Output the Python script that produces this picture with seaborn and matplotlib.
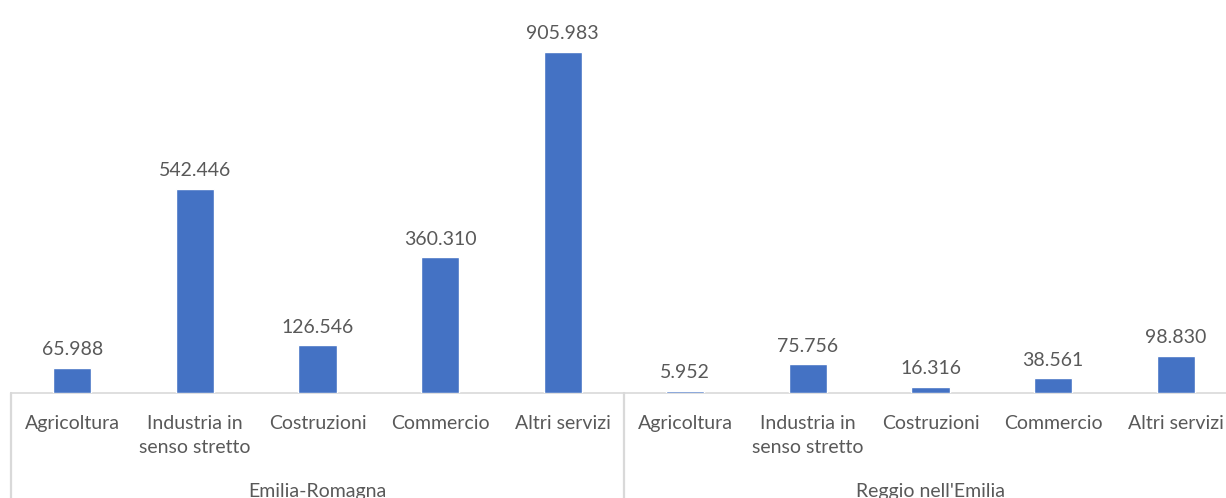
import matplotlib
matplotlib.use("Agg")
import matplotlib.pyplot as plt
import matplotlib.transforms as mtransforms
import seaborn as sns
import pandas as pd

# Occupati per settore, due territori
regions = ["Emilia-Romagna", "Reggio nell'Emilia"]
sectors = ["Agricoltura", "Industria in\nsenso stretto", "Costruzioni", "Commercio", "Altri servizi"]
emilia_romagna = [65988, 542446, 126546, 360310, 905983]
reggio_emilia = [5952, 75756, 16316, 38561, 98830]

rows = []
for region, vals in zip(regions, [emilia_romagna, reggio_emilia]):
    for sector, v in zip(sectors, vals):
        rows.append({"key": f"{region}|{sector}", "region": region, "sector": sector, "value": v})
df = pd.DataFrame(rows)

sns.set_theme(style="white")
plt.rcParams["font.family"] = ["Lato", "DejaVu Sans"]

BAR = "#4472C4"
TEXT = "#595959"
GRID = "#D9D9D9"

W, H = 1226, 498
fig = plt.figure(figsize=(W / 100, H / 100), dpi=100)
ax_left, ax_bottom = 11 / W, 105 / H
ax = fig.add_axes([ax_left, ax_bottom, 1226 / W, 393 / H])

sns.barplot(data=df, x="key", y="value", order=df["key"], color=BAR,
            width=0.31, saturation=1, ax=ax, errorbar=None, zorder=3)

ax.set_xlim(-0.5, 9.5)
ax.set_ylim(0, 905983 * 393 / 341)

for c in ax.containers:
    labels = [f"{int(v):,}".replace(",", ".") for v in c.datavalues]
    ax.bar_label(c, labels=labels, padding=7, fontsize=14, color=TEXT)

ax.set_xticks(range(len(df)))
ax.set_xticklabels(df["sector"], fontsize=14, color=TEXT, linespacing=1.5, va="top")
ax.tick_params(axis="x", length=0, pad=16)
ax.set_yticks([])
ax.set_xlabel("")
ax.set_ylabel("")

for side in ["left", "right", "top"]:
    ax.spines[side].set_visible(False)
ax.spines["bottom"].set_color(GRID)
ax.spines["bottom"].set_linewidth(1.2)
ax.spines["bottom"].set_zorder(1)

trans = mtransforms.blended_transform_factory(ax.transData, ax.transAxes)
depth = -105 / 393
for xs in [-0.5, 4.5, 9.5]:
    ax.plot([xs, xs], [0, depth], transform=trans, color=GRID, lw=1.6, clip_on=False)

n = len(sectors)
for i, region in enumerate(regions):
    center = i * n + (n - 1) / 2
    ax.text(center, (393 - 491) / 393, region, transform=trans, ha="center", va="center",
            fontsize=14, color=TEXT)

fig.savefig("out.png", dpi=100)
